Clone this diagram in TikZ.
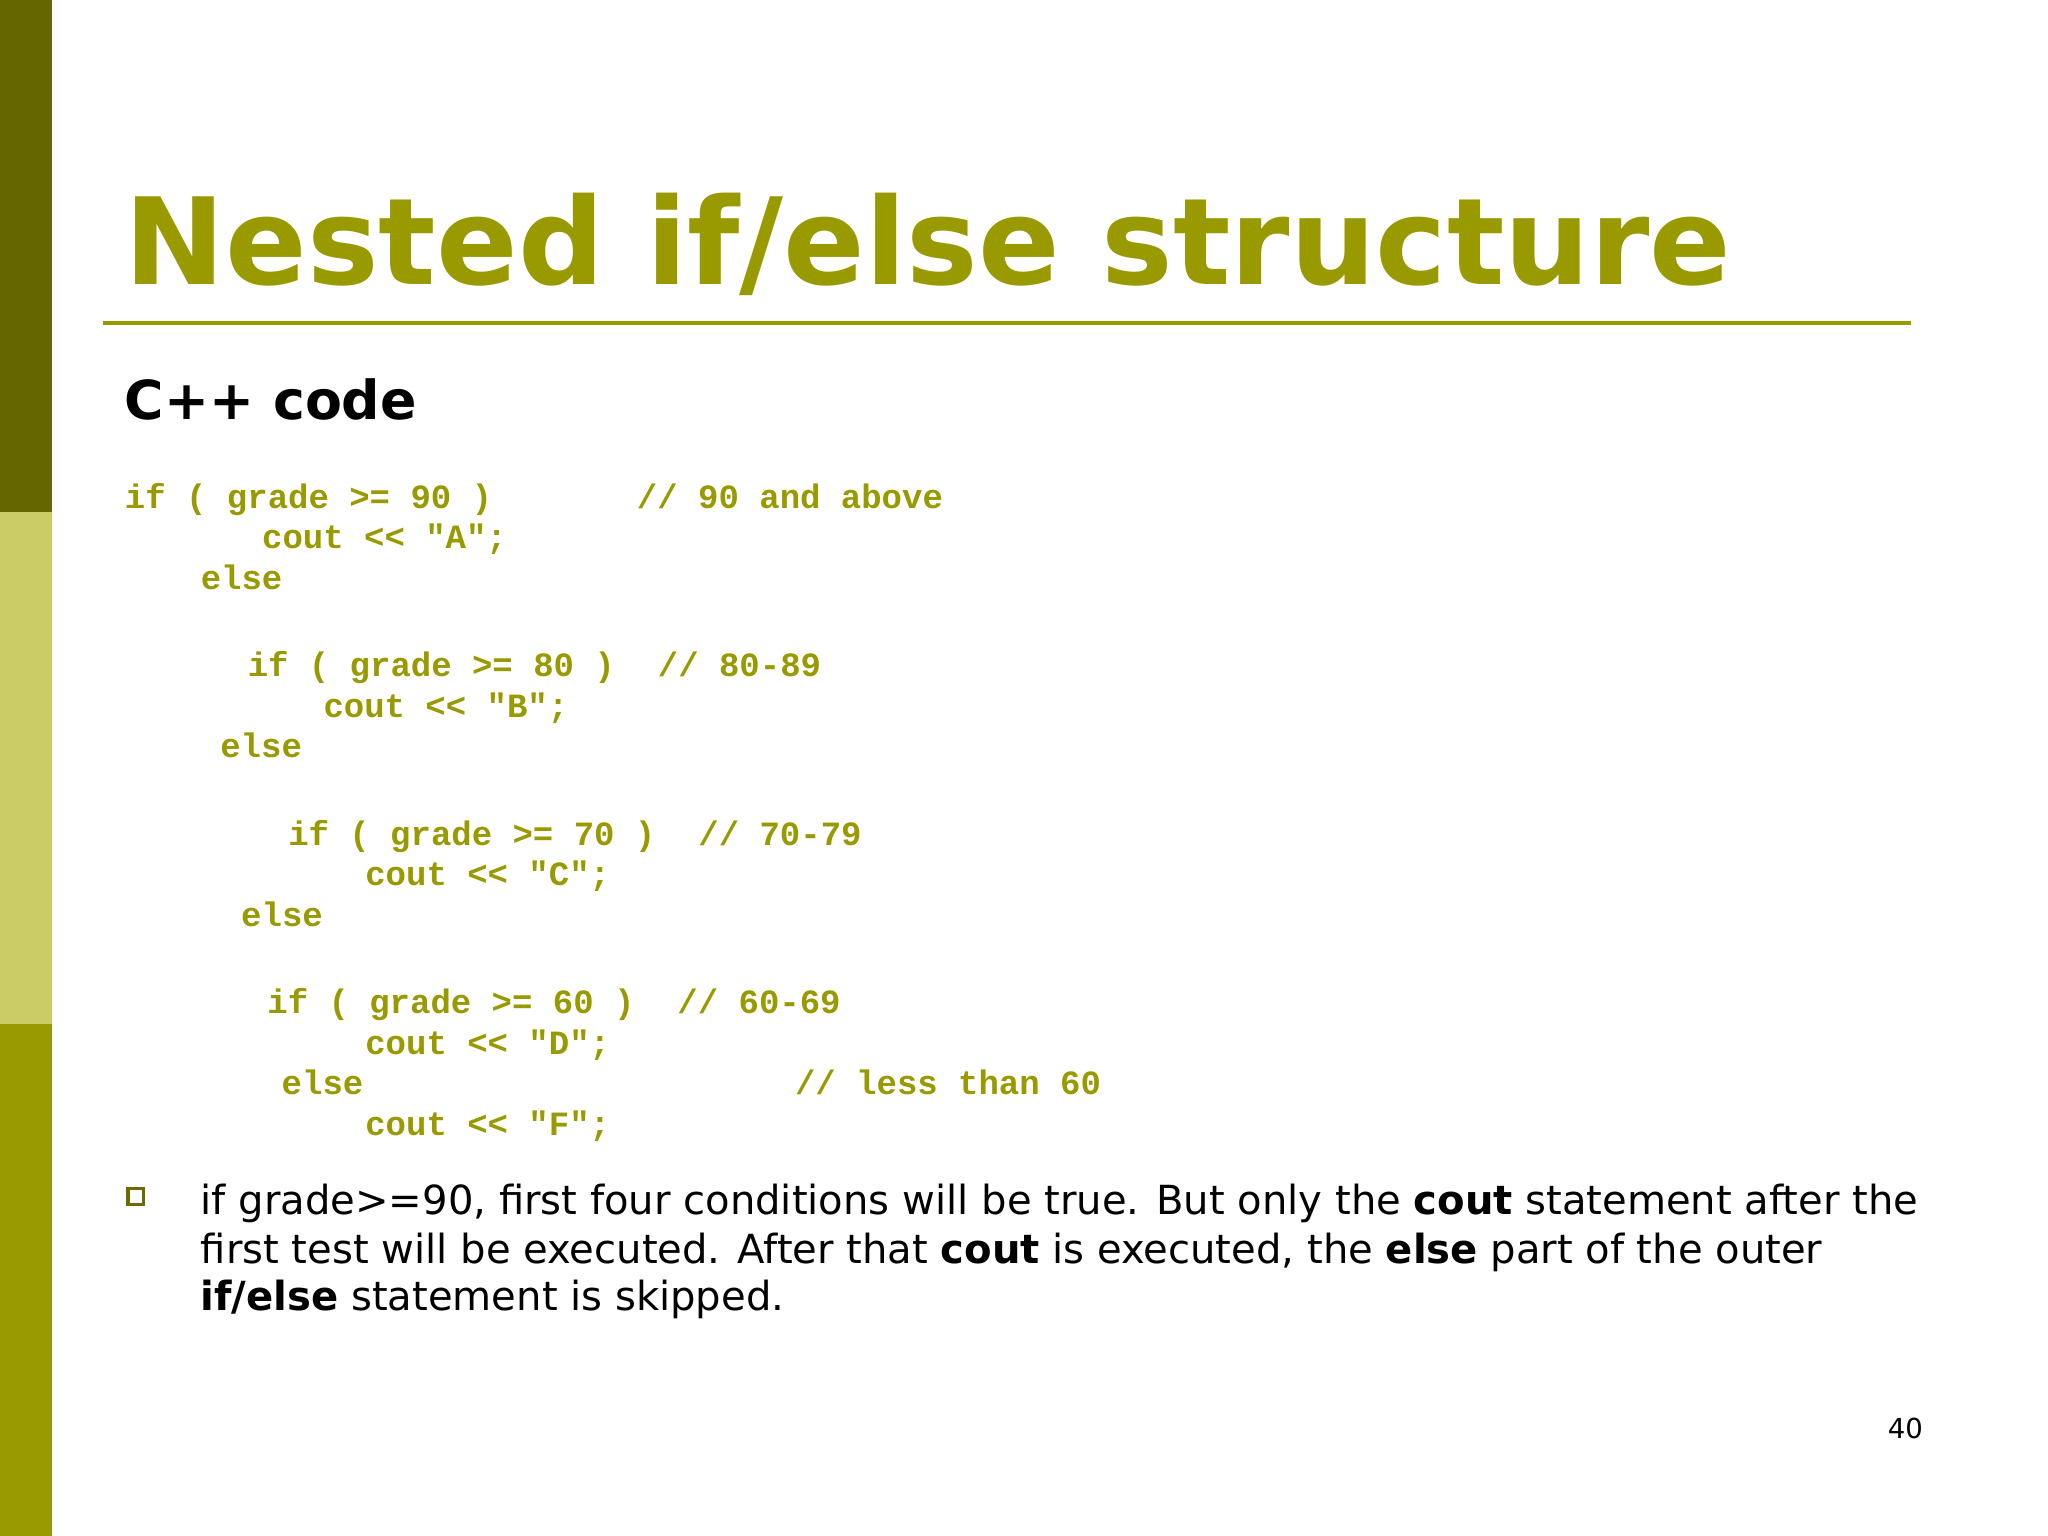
\documentclass[tikz,border=0pt]{standalone}
\usepackage{fontspec}
\setmainfont{DejaVu Sans}
\newfontfamily\codef{Liberation Mono}
\newfontfamily\headf{DejaVu Sans}
\definecolor{olive}{HTML}{999900}
\definecolor{darkol}{HTML}{666600}
\definecolor{lightol}{HTML}{CCCC66}
\tikzset{
  code/.style={anchor=base west,inner sep=0,text=olive,font=\codef\bfseries\fontsize{7.4pt}{9pt}\selectfont},
  body/.style={anchor=base west,inner sep=0,font=\fontsize{8.73pt}{10pt}\selectfont}
}
\begin{document}
\begin{tikzpicture}[x=0.01cm,y=-0.01cm]
\fill[white] (0,0) rectangle (1568,1176);
\useasboundingbox (0,0) rectangle (1568,1176);
\fill[darkol] (0,0) rectangle (40,392);
\fill[lightol] (0,392) rectangle (40,784);
\fill[olive] (0,784) rectangle (40,1176);
\node[anchor=base west,inner sep=0,text=olive,font=\headf\bfseries\fontsize{26.2pt}{30pt}\selectfont] (title) at (95,218) {Nested if/else structure};
\draw[olive,line width=0.9pt] (79,247) -- (1463,247);
\node[anchor=base west,inner sep=0,font=\headf\bfseries\fontsize{11.7pt}{13pt}\selectfont] (sub) at (95,321) {C++ code};
\node[code] (l1) at (95,389) {if ( grade >= 90 )};
\node[code] (c1) at (487,389) {// 90 and above};
\node[code] (l2) at (200,420) {cout << "A";};
\node[code] (l3) at (153,451) {else};
\node[code] (l4) at (189,518) {if ( grade >= 80 )};
\node[code] (c4) at (503,518) {// 80-89};
\node[code] (l5) at (247,549) {cout << "B";};
\node[code] (l6) at (168,580) {else};
\node[code] (l7) at (220,647) {if ( grade >= 70 )};
\node[code] (c7) at (534,647) {// 70-79};
\node[code] (l8) at (279,678) {cout << "C";};
\node[code] (l9) at (184,709) {else};
\node[code] (l10) at (204,776) {if ( grade >= 60 )};
\node[code] (c10) at (518,776) {// 60-69};
\node[code] (l11) at (279,807) {cout << "D";};
\node[code] (l12) at (215,838) {else};
\node[code] (c12) at (608,838) {// less than 60};
\node[code] (l13) at (279,869) {cout << "F";};
\draw[olive!70!black,line width=0.7pt] (98,910) rectangle (110,922);
\node[body] (b1) at (153,930) {if grade>=90, first four conditions will be true. But only the \textbf{cout} statement after the};
\node[body] (b2) at (153,967) {first test will be executed. After that \textbf{cout} is executed, the \textbf{else} part of the outer};
\node[body] (b3) at (153,1003) {\textbf{if/else} statement is skipped.};
\node[anchor=base east,inner sep=0,font=\fontsize{6pt}{7pt}\selectfont] (pg) at (1473,1101) {40};
\end{tikzpicture}
\end{document}
